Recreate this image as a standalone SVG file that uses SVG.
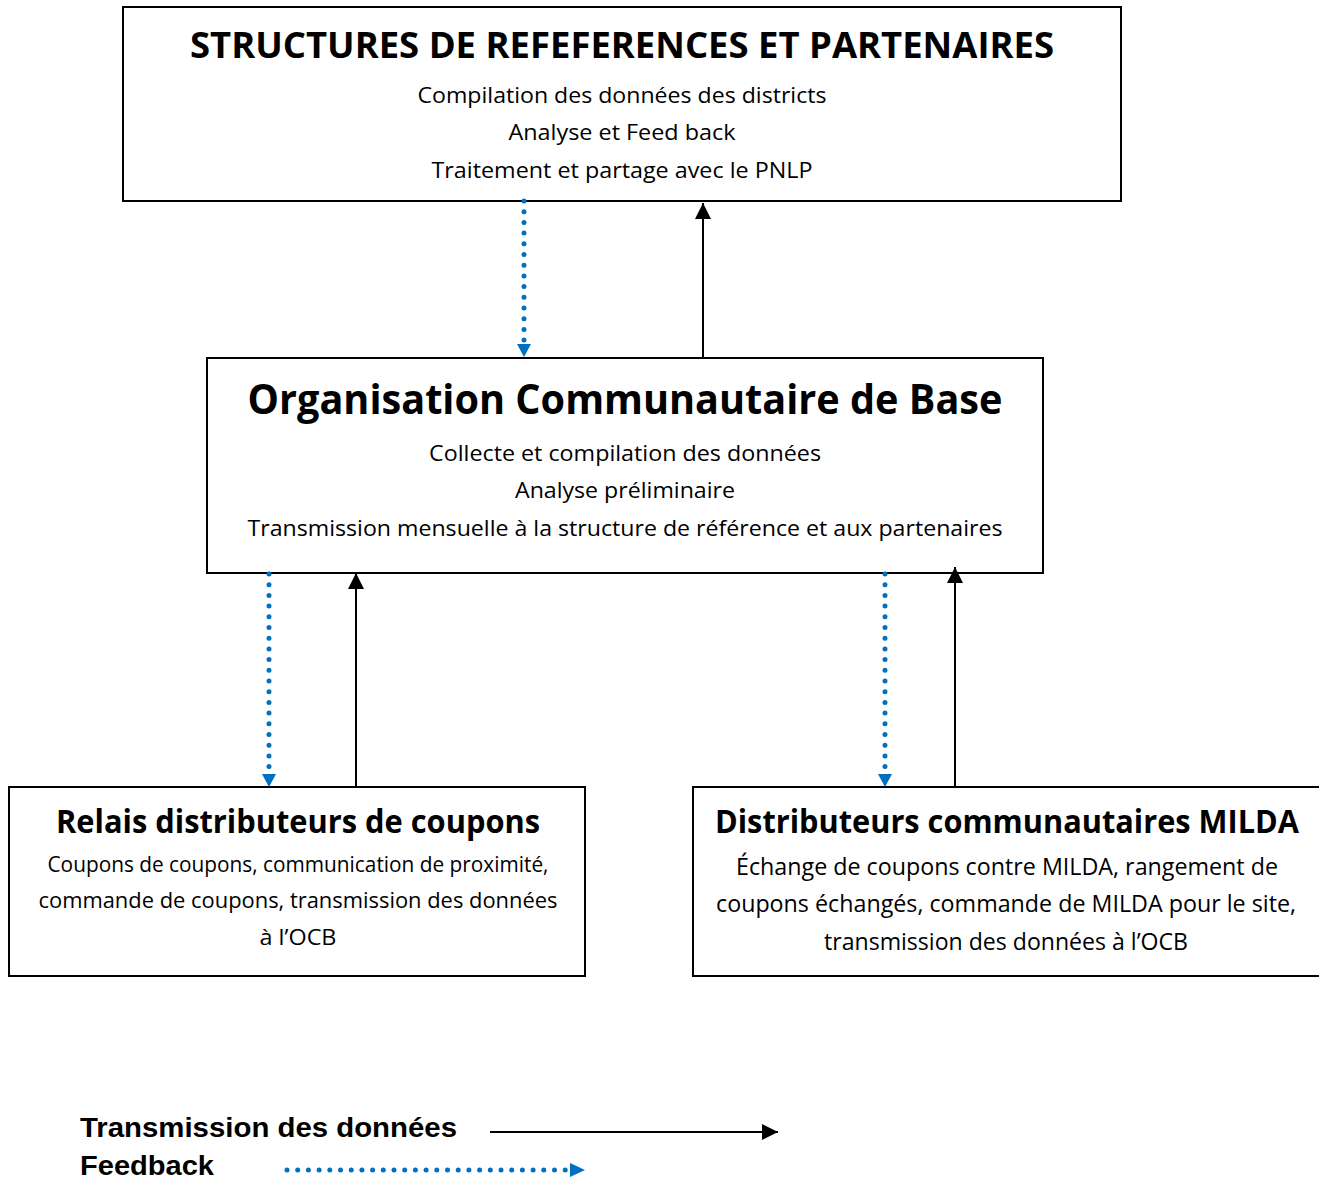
<svg xmlns="http://www.w3.org/2000/svg" width="1319" height="1180" viewBox="0 0 1319 1180">
<style>
.box{fill:#fff;stroke:#000;stroke-width:2}
.t{font-family:"Open Sans","Noto Sans","Liberation Sans",sans-serif;fill:#000;text-anchor:middle}
.b{font-weight:bold}
.lg{font-family:"Liberation Sans",Arial,sans-serif;font-weight:bold;font-size:27px;fill:#000}
.solid{stroke:#000;stroke-width:2;fill:none}
.dot{stroke:#0070C0;stroke-width:5;stroke-linecap:round;stroke-dasharray:0 10.7;fill:none}
</style>
<defs>
<marker id="ab" markerUnits="userSpaceOnUse" markerWidth="16" markerHeight="16" viewBox="0 0 14 14" refX="14" refY="7" orient="auto">
<path d="M0,0 L14,7 L0,14 Z" fill="#000"/>
</marker>
</defs>
<rect width="1319" height="1180" fill="#fff"/>

<g id="node-structures">
<rect class="box" x="123" y="7" width="998" height="194"/>
<text class="t b" x="622" y="58" font-size="36" textLength="864" lengthAdjust="spacingAndGlyphs">STRUCTURES DE REFEFERENCES ET PARTENAIRES</text>
<text class="t" x="622" y="103" font-size="22" textLength="409" lengthAdjust="spacingAndGlyphs">Compilation des données des districts</text>
<text class="t" x="622" y="140" font-size="22" textLength="227" lengthAdjust="spacingAndGlyphs">Analyse et Feed back</text>
<text class="t" x="622" y="178" font-size="22" textLength="381" lengthAdjust="spacingAndGlyphs">Traitement et partage avec le PNLP</text>
</g>

<g id="node-ocb">
<rect class="box" x="207" y="358" width="836" height="215"/>
<text class="t b" x="625" y="414" font-size="42" textLength="755" lengthAdjust="spacingAndGlyphs">Organisation Communautaire de Base</text>
<text class="t" x="625" y="461" font-size="22" textLength="392" lengthAdjust="spacingAndGlyphs">Collecte et compilation des données</text>
<text class="t" x="625" y="498" font-size="22" textLength="220" lengthAdjust="spacingAndGlyphs">Analyse préliminaire</text>
<text class="t" x="625" y="536" font-size="22" textLength="755" lengthAdjust="spacingAndGlyphs">Transmission mensuelle à la structure de référence et aux partenaires</text>
</g>

<g id="node-relais">
<rect class="box" x="9" y="787" width="576" height="189"/>
<text class="t b" x="298" y="833" font-size="32" textLength="484" lengthAdjust="spacingAndGlyphs">Relais distributeurs de coupons</text>
<text class="t" x="298" y="872" font-size="21" textLength="501" lengthAdjust="spacingAndGlyphs">Coupons de coupons, communication de proximité,</text>
<text class="t" x="298" y="908" font-size="21" textLength="519" lengthAdjust="spacingAndGlyphs">commande de coupons, transmission des données</text>
<text class="t" x="298" y="945" font-size="21" textLength="77" lengthAdjust="spacingAndGlyphs">à l’OCB</text>
</g>

<g id="node-milda">
<rect class="box" x="693" y="787" width="628" height="189"/>
<text class="t b" x="1007" y="833" font-size="32" textLength="584" lengthAdjust="spacingAndGlyphs">Distributeurs communautaires MILDA</text>
<text class="t" x="1007" y="875" font-size="23" textLength="542" lengthAdjust="spacingAndGlyphs">Échange de coupons contre MILDA, rangement de</text>
<text class="t" x="1006" y="912" font-size="23" textLength="580" lengthAdjust="spacingAndGlyphs">coupons échangés, commande de MILDA pour le site,</text>
<text class="t" x="1006" y="950" font-size="23" textLength="364" lengthAdjust="spacingAndGlyphs">transmission des données à l’OCB</text>
</g>

<g id="connectors">
<line class="dot" x1="524" y1="201" x2="524" y2="343"/>
<path d="M517,344 L531,344 L524,357 Z" fill="#0070C0"/>
<line class="solid" x1="703" y1="358" x2="703" y2="203" marker-end="url(#ab)"/>
<line class="dot" x1="269" y1="574" x2="269" y2="773"/>
<path d="M262,774 L276,774 L269,787 Z" fill="#0070C0"/>
<line class="solid" x1="356" y1="787" x2="356" y2="573" marker-end="url(#ab)"/>
<line class="dot" x1="885" y1="574" x2="885" y2="773"/>
<path d="M878,774 L892,774 L885,787 Z" fill="#0070C0"/>
<line class="solid" x1="955" y1="787" x2="955" y2="567" marker-end="url(#ab)"/>
</g>

<g id="legend">
<text class="lg" x="80" y="1137" textLength="377" lengthAdjust="spacingAndGlyphs">Transmission des données</text>
<text class="lg" x="80" y="1175" textLength="134" lengthAdjust="spacingAndGlyphs">Feedback</text>
<line class="solid" x1="490" y1="1132" x2="778" y2="1132" marker-end="url(#ab)"/>
<line class="dot" x1="287" y1="1170" x2="568" y2="1170"/>
<path d="M570,1163 L585,1170 L570,1177 Z" fill="#0070C0"/>
</g>
</svg>
